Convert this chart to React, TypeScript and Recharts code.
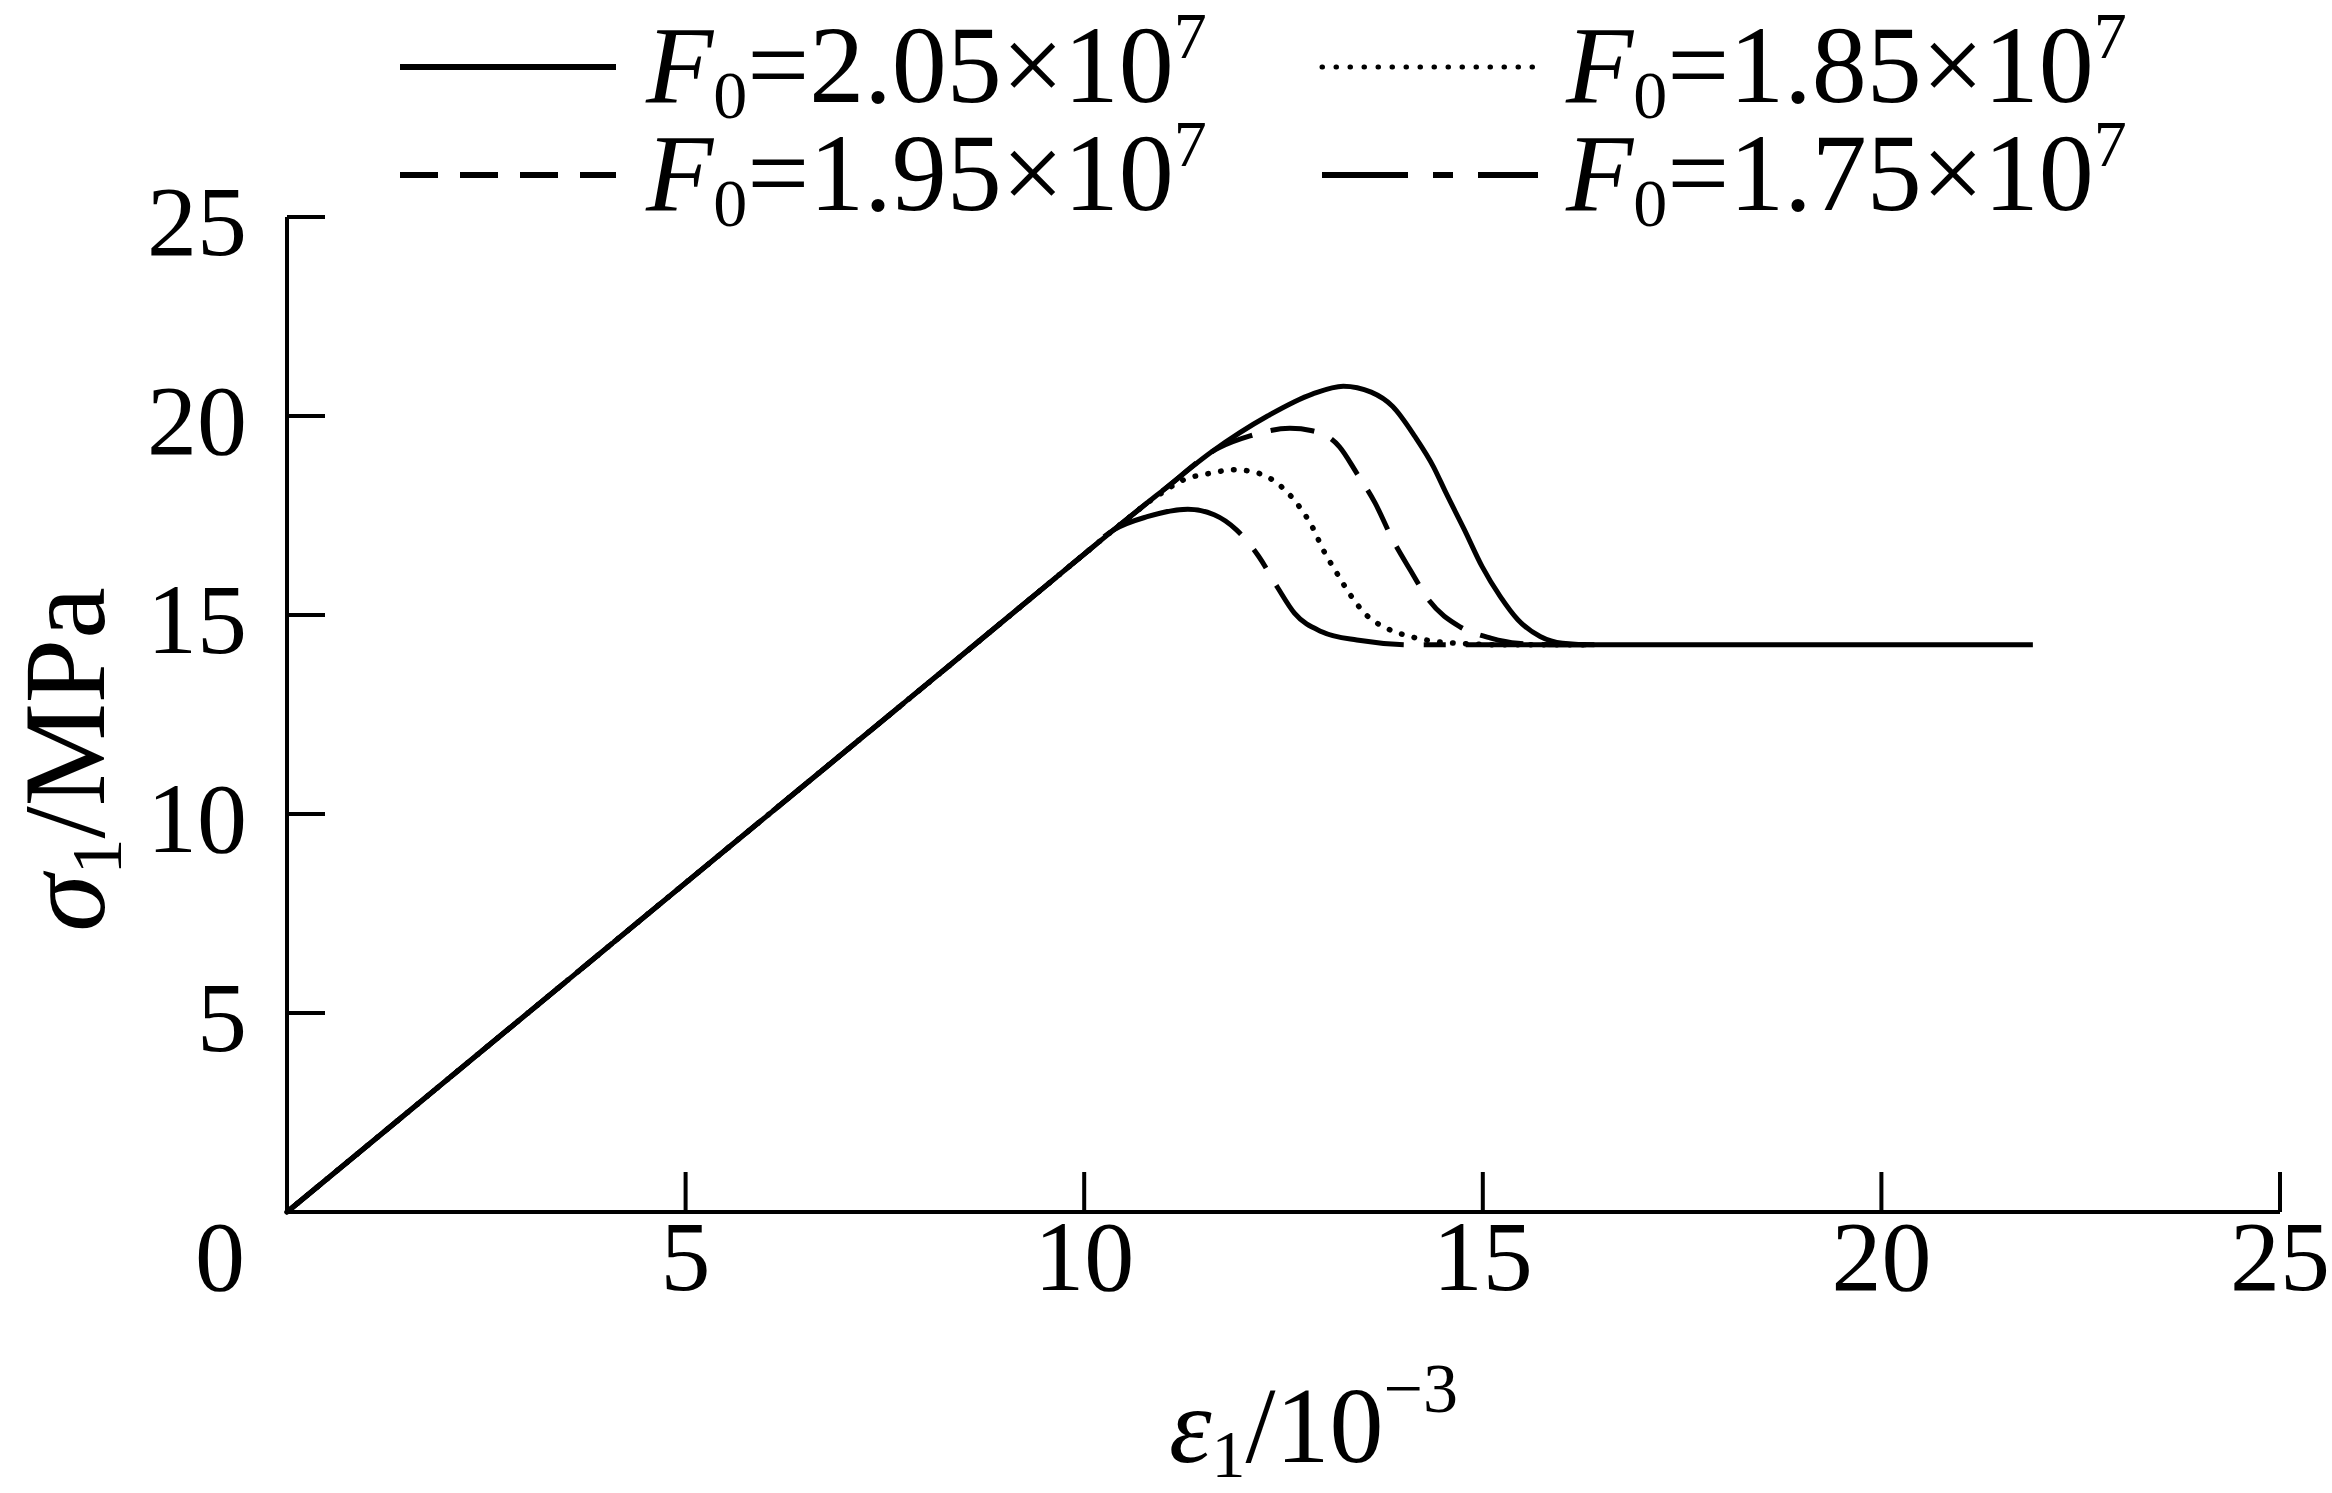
import { Legend, Line, LineChart, XAxis, YAxis } from "recharts";

// strain ε1 (10^-3) and stress σ1 (MPa) for each F0
const strain205 = [0, 5, 9.5, 10.0, 10.37, 11.0, 11.6, 12.3, 12.86, 13.25, 13.6, 13.87, 14.15, 14.38, 14.54, 14.77, 14.99, 15.22, 15.44, 15.72, 16.0, 16.4, 21.9];
const stress205 = [0, 8.27, 15.7, 16.53, 17.14, 18.15, 19.1, 20.0, 20.55, 20.75, 20.6, 20.24, 19.48, 18.73, 18.06, 17.14, 16.22, 15.46, 14.88, 14.46, 14.29, 14.25, 14.25];

const strain195 = [0, 5, 9.5, 10.0, 10.37, 11.0, 11.69, 12.08, 12.58, 12.86, 13.2, 13.42, 13.65, 13.87, 14.09, 14.32, 14.71, 15.1, 15.44, 15.94, 16.4];
const stress195 = [0, 8.27, 15.7, 16.53, 17.14, 18.15, 19.2, 19.5, 19.69, 19.63, 19.23, 18.56, 17.81, 16.89, 16.13, 15.38, 14.71, 14.42, 14.29, 14.25, 14.25];

const strain185 = [0, 5, 9.5, 10.0, 10.37, 10.96, 11.24, 11.58, 11.88, 12.19, 12.47, 12.7, 12.86, 13.0, 13.17, 13.34, 13.54, 13.79, 14.09, 14.43, 14.77, 15.3, 16.4];
const stress185 = [0, 8.27, 15.7, 16.53, 17.14, 18.05, 18.39, 18.56, 18.65, 18.56, 18.23, 17.72, 17.22, 16.63, 16.05, 15.5, 15.0, 14.67, 14.46, 14.33, 14.28, 14.25, 14.25];

const strain175 = [0, 5, 9.5, 10.0, 10.37, 10.79, 11.3, 11.63, 11.91, 12.19, 12.42, 12.64, 12.98, 13.42, 14.15, 16.4];
const stress175 = [0, 8.27, 15.7, 16.53, 17.14, 17.47, 17.66, 17.52, 17.14, 16.47, 15.71, 15.04, 14.58, 14.37, 14.25, 14.25];

const xTicks = [0, 5, 10, 15, 20, 25];
const yTicks = [5, 10, 15, 20, 25];

const FONT = "'Liberation Serif', 'Times New Roman', serif";

const toPoints = (xs: number[], ys: number[]) => xs.map((x, i) => ({ x, y: ys[i] }));

const series = [
   { key: "1.75", data: toPoints(strain175, stress175), dash: "150 20 22 20", legendDash: "86 25 20 25", cap: "butt" },
   { key: "1.85", data: toPoints(strain185, stress185), dash: "0.5 12.5", legendDash: "0.5 13.5", cap: "round" },
   { key: "1.95", data: toPoints(strain195, stress195), dash: "44 19", legendDash: "38 22", cap: "butt" },
   { key: "2.05", data: toPoints(strain205, stress205), dash: undefined, legendDash: undefined, cap: "butt" },
];

// legend grid: column 1 then column 2
const legendCells = [
   { key: "2.05", col: 0, row: 0 },
   { key: "1.95", col: 0, row: 1 },
   { key: "1.85", col: 1, row: 0 },
   { key: "1.75", col: 1, row: 1 },
];

function XTick({ x, y, payload }: any) {
   const v = payload.value;
   return (
      <g>
         {v !== 0 && <line x1={x} y1={y} x2={x} y2={y - 40} stroke="#000" strokeWidth={4} />}
         <text x={v === 0 ? x - 67 : x} y={y + 78} textAnchor="middle" fontFamily={FONT} fontSize={100} fill="#000">
            {v}
         </text>
      </g>
   );
}

function YTick({ x, y, payload }: any) {
   return (
      <g>
         <line x1={x} y1={y} x2={x + 38} y2={y} stroke="#000" strokeWidth={4} />
         <text x={x - 40} y={y + 38} textAnchor="end" fontFamily={FONT} fontSize={100} fill="#000">
            {payload.value}
         </text>
      </g>
   );
}

function LegendGrid() {
   const colLine = [400, 1322];
   const colText = [646, 1566];
   const rowBase = [102, 210];
   return (
      <svg width={2332} height={236} style={{ overflow: "visible" }}>
         {legendCells.map((c) => {
            const s = series.find((d) => d.key === c.key)!;
            const ly = rowBase[c.row] - 35;
            return (
               <g key={c.key}>
                  <line
                     x1={colLine[c.col]}
                     y1={ly}
                     x2={colLine[c.col] + 216}
                     y2={ly}
                     stroke="#000"
                     strokeWidth={c.key === "1.85" ? 5 : 6}
                     strokeDasharray={s.legendDash}
                     strokeLinecap={s.cap as any}
                  />
                  <text x={colText[c.col]} y={rowBase[c.row]} fontFamily={FONT} fontSize={110} fill="#000">
                     <tspan fontStyle="italic">F</tspan>
                     <tspan fontSize={68} dy={16}>0</tspan>
                     <tspan dy={-16}>={c.key}×10</tspan>
                     <tspan fontSize={66} dy={-44}>7</tspan>
                  </text>
               </g>
            );
         })}
      </svg>
   );
}

export default function App() {
   return (
      <div style={{ position: "absolute", left: 0, top: 0, width: 2332, height: 1493, background: "#fff" }}>
         <LineChart width={2332} height={1493} margin={{ top: 217, right: 52, bottom: 131, left: 87 }}>
            <XAxis
               type="number"
               dataKey="x"
               domain={[0, 25]}
               ticks={xTicks}
               interval={0}
               height={150}
               tickSize={0}
               tickMargin={0}
               tickLine={false}
               tick={<XTick />}
               axisLine={{ stroke: "#000", strokeWidth: 4 }}
               label={({ viewBox }: any) => (
                  <text
                     x={viewBox.x + viewBox.width / 2 + 30}
                     y={viewBox.y + 250}
                     textAnchor="middle"
                     fontFamily={FONT}
                     fontSize={108}
                     fill="#000"
                  >
                     <tspan fontStyle="italic">ε</tspan>
                     <tspan fontSize={68} dy={15}>1</tspan>
                     <tspan dy={-15}>/10</tspan>
                     <tspan fontSize={70} dy={-50}>−3</tspan>
                  </text>
               )}
            />
            <YAxis
               type="number"
               dataKey="y"
               domain={[0, 25]}
               ticks={yTicks}
               interval={0}
               width={200}
               tickSize={0}
               tickMargin={0}
               tickLine={false}
               tick={<YTick />}
               axisLine={{ stroke: "#000", strokeWidth: 4 }}
               label={({ viewBox }: any) => {
                  const cx = 104;
                  const cy = viewBox.y + viewBox.height / 2 + 45;
                  return (
                     <text
                        x={cx}
                        y={cy}
                        transform={`rotate(-90 ${cx} ${cy})`}
                        textAnchor="middle"
                        fontFamily={FONT}
                        fontSize={116}
                        fill="#000"
                     >
                        <tspan fontStyle="italic">σ</tspan>
                        <tspan fontSize={72} dy={17}>1</tspan>
                        <tspan dy={-17}>/MPa</tspan>
                     </text>
                  );
               }}
            />
            <Legend
               layout="horizontal"
               verticalAlign="middle"
               align="center"
               content={() => <LegendGrid />}
               wrapperStyle={{ position: "absolute", left: 0, top: 0, width: 2332, height: 236 }}
            />
            {series.map((s) => (
               <Line
                  key={s.key}
                  data={s.data}
                  dataKey="y"
                  type="monotone"
                  stroke="#000"
                  strokeWidth={s.key === "1.85" ? 5.5 : 5}
                  strokeDasharray={s.dash}
                  strokeLinecap={s.cap as any}
                  dot={false}
                  activeDot={false}
                  isAnimationActive={false}
                  name={`F0=${s.key}×10^7`}
               />
            ))}
         </LineChart>
      </div>
   );
}
